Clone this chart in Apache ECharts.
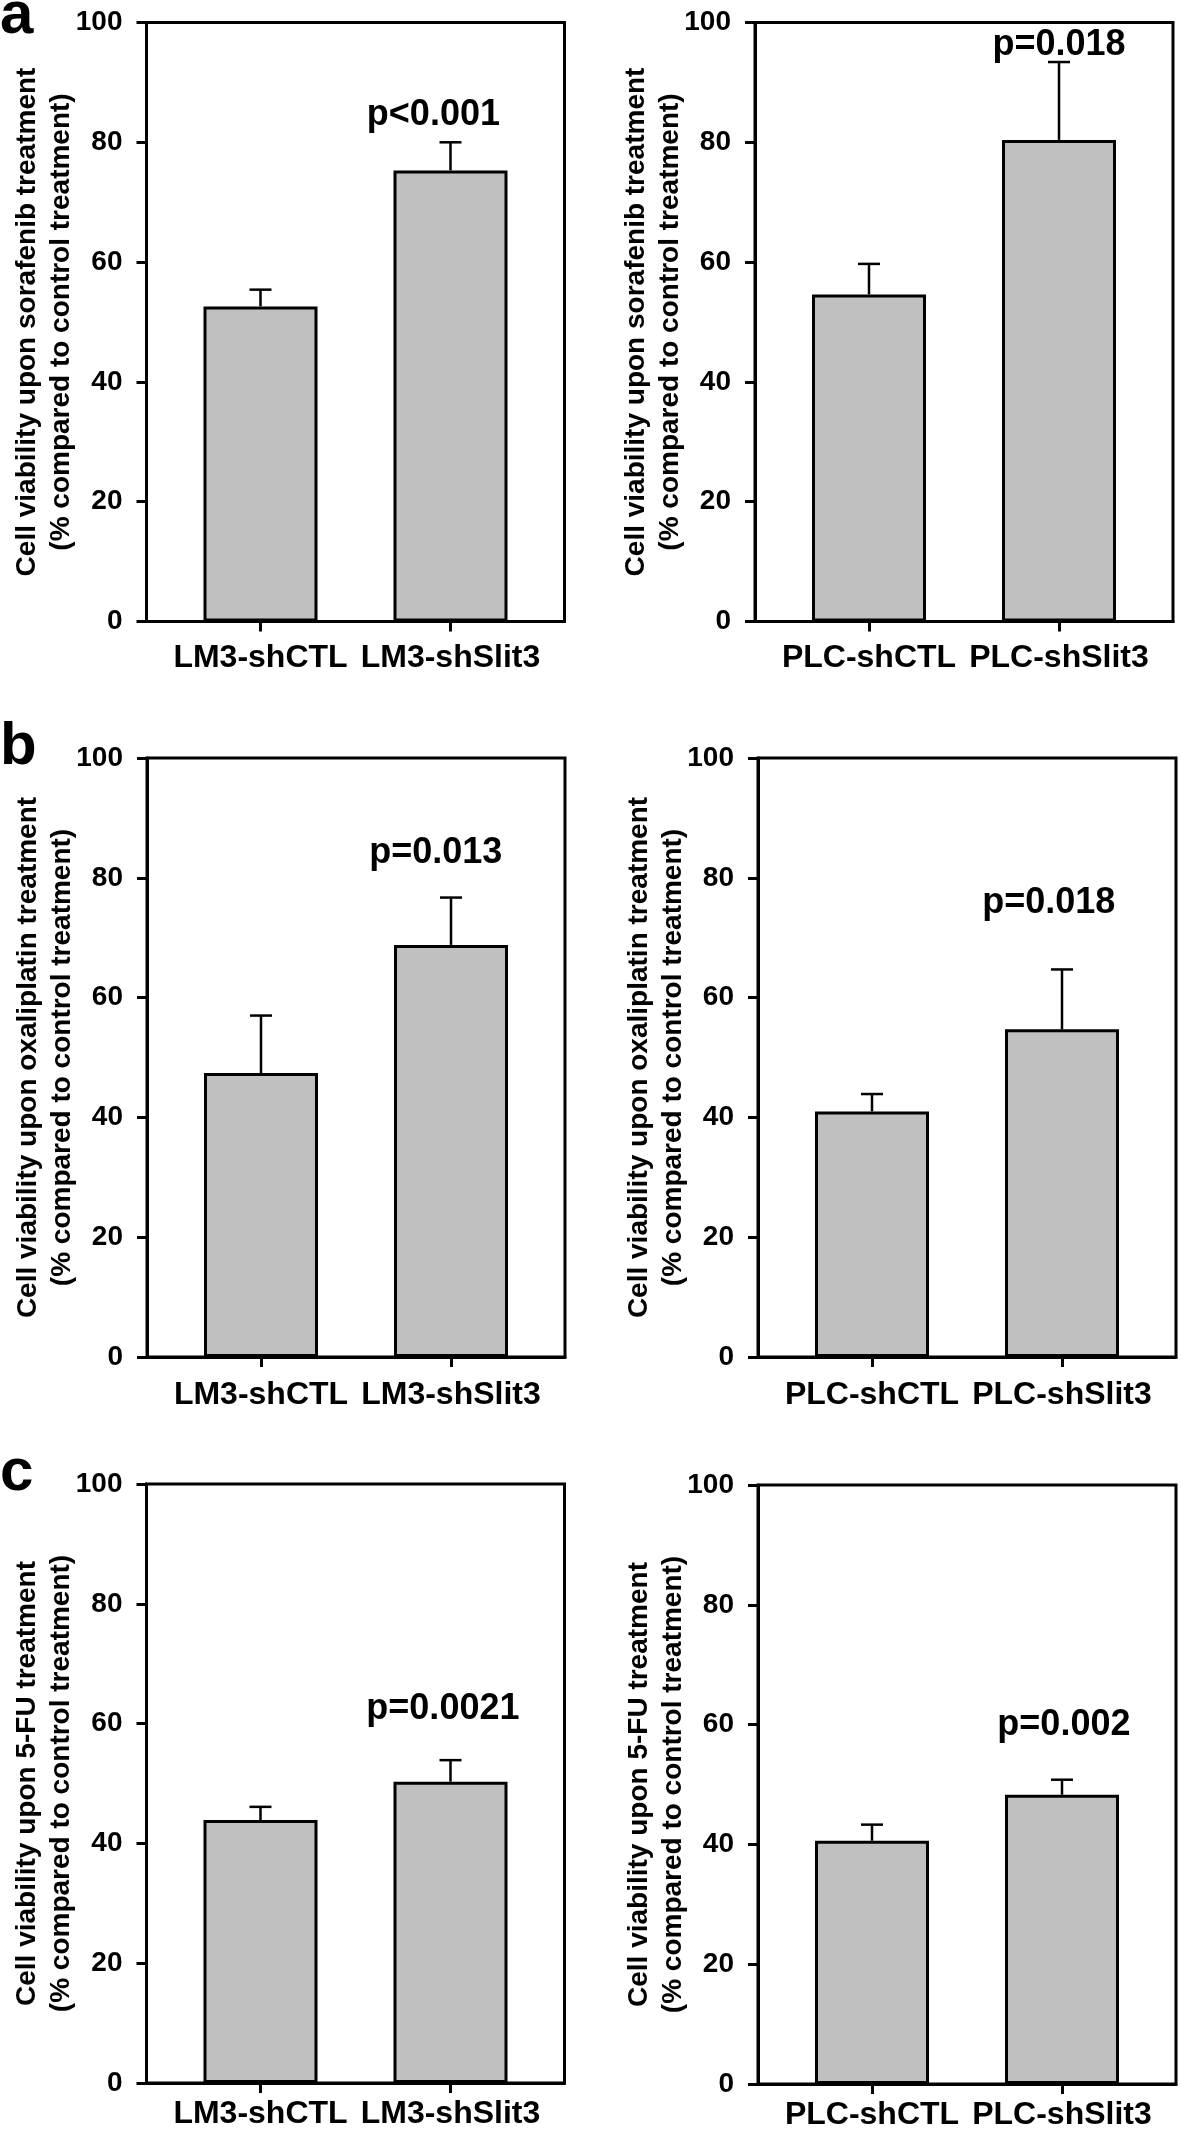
<!DOCTYPE html>
<html>
<head>
<meta charset="utf-8">
<script src="https://cdn.jsdelivr.net/npm/echarts@6.0.0/dist/echarts.min.js"></script>
<style>
html,body{margin:0;padding:0;background:#ffffff;}
#chart{width:1181px;height:2137px;}
</style>
</head>
<body>
<div id="chart"></div>
<script>
// ---------------- DATA ----------------
const lm3Categories = ['LM3-shCTL', 'LM3-shSlit3'];
const plcCategories = ['PLC-shCTL', 'PLC-shSlit3'];
const yTickValues = [0, 20, 40, 60, 80, 100];

const sorafenibLM3Mean = [52.6, 75.3];
const sorafenibLM3Err  = [2.8, 4.7];
const sorafenibPLCMean = [54.6, 80.4];
const sorafenibPLCErr  = [5.1, 13.0];

const oxaliplatinLM3Mean = [47.4, 68.8];
const oxaliplatinLM3Err  = [9.6, 7.9];
const oxaliplatinPLCMean = [41.0, 54.7];
const oxaliplatinPLCErr  = [2.9, 10.0];

const fuLM3Mean = [43.9, 50.3];
const fuLM3Err  = [2.2, 3.6];
const fuPLCMean = [40.6, 48.3];
const fuPLCErr  = [2.7, 2.5];

const pValueTexts = ['p<0.001', 'p=0.018', 'p=0.013', 'p=0.018', 'p=0.0021', 'p=0.002'];
const panelLetters = ['a', 'b', 'c'];
const yTitleLine2 = '(% compared to control treatment)';
const yTitleLine1 = [
  'Cell viability upon sorafenib treatment',
  'Cell viability upon oxaliplatin treatment',
  'Cell viability upon 5-FU treatment'
];

// ---------------- LAYOUT / STYLE ----------------
const FONT = "'Liberation Sans', Arial, Helvetica, sans-serif";
const X_MIN = 0.4, X_MAX = 2.6, BAR_FRAC = 0.6, CAP_W = 22;
// grid boxes per panel (px)
const gridBoxes = [
  {left: 146.5, top: 22.5, width: 418, height: 599},
  {left: 755,   top: 22.5, width: 418, height: 599},
  {left: 147,   top: 758,  width: 418, height: 599},
  {left: 758,   top: 758,  width: 418, height: 599},
  {left: 146.5, top: 1484, width: 418, height: 599},
  {left: 758,   top: 1485, width: 418, height: 599}
];
const xLabelMargins = [21, 21, 22, 22, 15, 15];
// p-label anchors in data space of each panel [x units, y value]
const pAnchors = [[1.91, 84.6], [2.0, 96.2], [1.92, 84.2], [1.93, 75.8], [1.96, 62.4], [2.01, 59.9]];
const letterY = [-14, 717, 1443];

const panels = [
  {cats: lm3Categories, mean: sorafenibLM3Mean, err: sorafenibLM3Err, title: yTitleLine1[0]},
  {cats: plcCategories, mean: sorafenibPLCMean, err: sorafenibPLCErr, title: yTitleLine1[0]},
  {cats: lm3Categories, mean: oxaliplatinLM3Mean, err: oxaliplatinLM3Err, title: yTitleLine1[1]},
  {cats: plcCategories, mean: oxaliplatinPLCMean, err: oxaliplatinPLCErr, title: yTitleLine1[1]},
  {cats: lm3Categories, mean: fuLM3Mean, err: fuLM3Err, title: yTitleLine1[2]},
  {cats: plcCategories, mean: fuPLCMean, err: fuPLCErr, title: yTitleLine1[2]}
];

const grids = [], xAxes = [], yAxes = [], series = [];

panels.forEach((p, i) => {
  const g = gridBoxes[i];
  grids.push({
    left: g.left, top: g.top, width: g.width, height: g.height,
    show: true, borderColor: '#000', borderWidth: 3, backgroundColor: 'transparent',
    containLabel: false, outerBoundsMode: 'none'
  });
  const catPositions = p.cats.map((c, j) => j + 1);
  xAxes.push({
    type: 'value', gridIndex: i, min: X_MIN, max: X_MAX,
    axisLine: {show: true, onZero: false, lineStyle: {color: '#000', width: 3}},
    axisTick: {show: true, inside: false, length: 10, customValues: catPositions, lineStyle: {color: '#000', width: 3}},
    axisLabel: {
      show: true, customValues: catPositions, margin: xLabelMargins[i],
      formatter: v => p.cats[Math.round(v) - 1] || '',
      fontFamily: FONT, fontWeight: 'bold', fontSize: 32, color: '#000'
    },
    splitLine: {show: false}
  });
  yAxes.push({
    type: 'value', gridIndex: i, min: yTickValues[0], max: yTickValues[yTickValues.length - 1],
    interval: yTickValues[1] - yTickValues[0],
    axisLine: {show: true, lineStyle: {color: '#000', width: 3}},
    axisTick: {show: true, inside: false, length: 10, lineStyle: {color: '#000', width: 3}},
    axisLabel: {show: true, margin: 24, fontFamily: FONT, fontWeight: 'bold', fontSize: 28, color: '#000'},
    splitLine: {show: false},
    name: p.title + '\n' + yTitleLine2,
    nameLocation: 'middle', nameGap: 68, nameRotate: 90, nameMoveOverlap: false,
    nameTextStyle: {fontFamily: FONT, fontWeight: 'bold', fontSize: 28, lineHeight: 34, color: '#000', align: 'center'}
  });
  const barW = g.width / (X_MAX - X_MIN) * BAR_FRAC;
  series.push({
    type: 'bar', xAxisIndex: i, yAxisIndex: i, silent: true, animation: false,
    barWidth: barW,
    data: p.mean.map((v, j) => [j + 1, v]),
    itemStyle: {color: '#c0c0c0', borderColor: '#000', borderWidth: 3},
    z: 2
  });
  series.push({
    type: 'custom', xAxisIndex: i, yAxisIndex: i, silent: true, animation: false,
    data: p.mean.map((v, j) => [j + 1, v, v + p.err[j]]),
    encode: {x: 0, y: [1, 2]},
    renderItem: (params, api) => {
      const x = api.value(0);
      const a = api.coord([x, api.value(1)]);
      const b = api.coord([x, api.value(2)]);
      const st = {stroke: '#000', lineWidth: 2.5};
      return {type: 'group', children: [
        {type: 'line', shape: {x1: a[0], y1: a[1], x2: b[0], y2: b[1]}, style: st},
        {type: 'line', shape: {x1: b[0] - CAP_W / 2, y1: b[1], x2: b[0] + CAP_W / 2, y2: b[1]}, style: st}
      ]};
    },
    z: 3
  });
  series.push({
    type: 'custom', xAxisIndex: i, yAxisIndex: i, silent: true, animation: false,
    data: [[pAnchors[i][0], pAnchors[i][1]]],
    encode: {x: 0, y: 1},
    renderItem: (params, api) => {
      const c = api.coord([api.value(0), api.value(1)]);
      return {type: 'text', x: c[0], y: c[1], style: {
        text: pValueTexts[i], align: 'center', verticalAlign: 'middle',
        fontFamily: FONT, fontWeight: 'bold', fontSize: 36, fill: '#000'
      }};
    },
    z: 4
  });
});

const graphics = panelLetters.map((t, k) => ({
  type: 'text', x: 0, y: letterY[k], z: 10,
  style: {text: t, fontFamily: FONT, fontWeight: 'bold', fontSize: 60, fill: '#000', align: 'left', verticalAlign: 'top'}
}));

const chart = echarts.init(document.getElementById('chart'), null, {renderer: 'canvas', width: 1181, height: 2137});
chart.setOption({
  backgroundColor: '#ffffff',
  animation: false,
  grid: grids,
  xAxis: xAxes,
  yAxis: yAxes,
  series: series,
  graphic: graphics
});
</script>
</body>
</html>
